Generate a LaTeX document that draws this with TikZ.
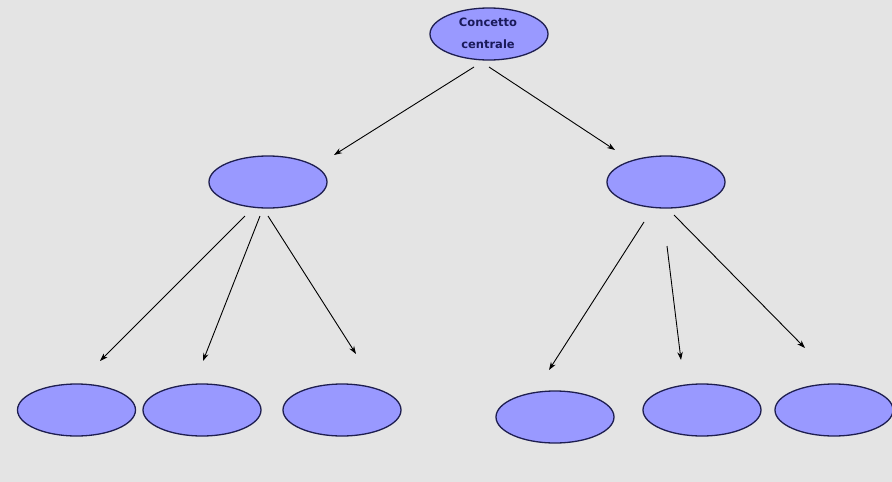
\documentclass[tikz,border=0pt]{standalone}
\usepackage{fontspec}
\setmainfont{DejaVu Sans}
\usetikzlibrary{shapes.geometric,arrows.meta}
\definecolor{bg}{HTML}{E4E4E4}
\definecolor{efill}{HTML}{9999FF}
\definecolor{edraw}{HTML}{1E1E50}
\definecolor{etext}{HTML}{1A1A5A}
\tikzset{
  concept/.style={ellipse, draw=edraw, fill=efill, line width=1.3pt, minimum width=118pt, minimum height=52pt, inner sep=0pt},
  link/.style={-{Stealth[length=8pt,width=5.5pt]}, line width=0.9pt, black}
}
\begin{document}
\begin{tikzpicture}[x=1pt,y=-1pt]
\fill[bg] (0,0) rectangle (892,482);
\useasboundingbox (0,0) rectangle (892,482);
\node[concept] (top) at (489,34) {};
\node[font=\bfseries\fontsize{11.5}{22}\selectfont, text=etext, align=center] (toplabel) at (488,33) {Concetto\\centrale};
\node[concept] (ml) at (268,182) {};
\node[concept] (mr) at (666,182) {};
\node[concept] (b1) at (76.5,410) {};
\node[concept] (b2) at (202,410) {};
\node[concept] (b3) at (342,410) {};
\node[concept] (b4) at (555,417) {};
\node[concept] (b5) at (702,410) {};
\node[concept] (b6) at (834,410) {};
% connector ends
\coordinate (t1s) at (474,67);  \coordinate (t1e) at (334,155);
\coordinate (t2s) at (489,67);  \coordinate (t2e) at (615,150);
\coordinate (l1s) at (245,216); \coordinate (l1e) at (100,361);
\coordinate (l2s) at (260,216); \coordinate (l2e) at (203,361);
\coordinate (l3s) at (268,216); \coordinate (l3e) at (356,354);
\coordinate (r1s) at (644,222); \coordinate (r1e) at (549,370);
\coordinate (r2s) at (667,246); \coordinate (r2e) at (681,360);
\coordinate (r3s) at (674,215); \coordinate (r3e) at (805,348);
\draw[link] (t1s) -- (t1e);
\draw[link] (t2s) -- (t2e);
\draw[link] (l1s) -- (l1e);
\draw[link] (l2s) -- (l2e);
\draw[link] (l3s) -- (l3e);
\draw[link] (r1s) -- (r1e);
\draw[link] (r2s) -- (r2e);
\draw[link] (r3s) -- (r3e);
\end{tikzpicture}
\end{document}
